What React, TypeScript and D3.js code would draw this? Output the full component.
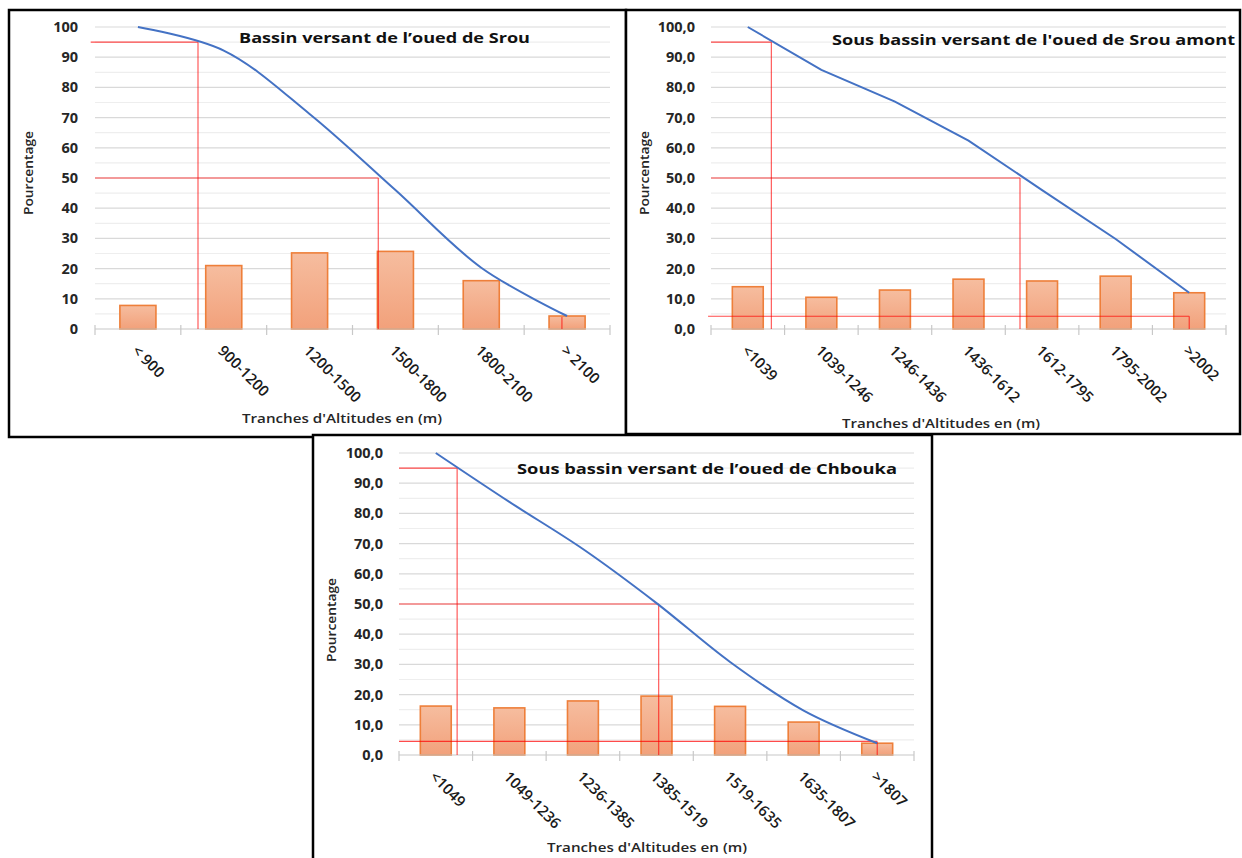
import React from "react";
import * as d3 from "d3";

// ---------- DATA ----------
const yTicks = [0, 10, 20, 30, 40, 50, 60, 70, 80, 90, 100];

const srouTitle = "Bassin versant de l\u2019oued de Srou";
const srouCategories = ["< 900", "900-1200", "1200-1500", "1500-1800", "1800-2100", "> 2100"];
const srouBars = [7.8, 21.0, 25.2, 25.7, 16.0, 4.3];
const srouCurve = [100, 92.2, 71.2, 46.0, 20.3, 4.3];
// guide lines: level (%) and position along the axis in category units
const srouGuides = [
  { level: 95, at: 1.2, from: -0.05, horizontal: true },
  { level: 50, at: 3.3, from: 0, horizontal: true },
  { level: 4, at: 5.44, from: 0, horizontal: false },
];

const amontTitle = "Sous bassin versant de l'oued de Srou amont";
const amontCategories = ["<1039", "1039-1246", "1246-1436", "1436-1612", "1612-1795", "1795-2002", ">2002"];
const amontBars = [14.0, 10.5, 12.9, 16.5, 15.9, 17.5, 12.0];
const amontCurve = [100, 85.8, 75.3, 62.4, 46.0, 29.8, 12.0];
const amontGuides = [
  { level: 95, at: 0.82, from: 0, horizontal: true },
  { level: 50, at: 4.2, from: 0, horizontal: true },
  { level: 4.2, at: 6.5, from: -0.04, horizontal: true },
];

const chboukaTitle = "Sous bassin versant de l\u2019oued de Chbouka";
const chboukaCategories = ["<1049", "1049-1236", "1236-1385", "1385-1519", "1519-1635", "1635-1807", ">1807"];
const chboukaBars = [16.2, 15.6, 17.9, 19.5, 16.1, 10.9, 3.9];
const chboukaCurve = [100, 83.8, 68.2, 50.3, 30.8, 14.7, 3.9];
const chboukaGuides = [
  { level: 95, at: 0.79, from: 0, horizontal: true },
  { level: 50, at: 3.53, from: 0, horizontal: true },
  { level: 4.5, at: 6.5, from: 0, horizontal: true },
];

const xAxisTitle = "Tranches d'Altitudes en (m)";
const yAxisTitle = "Pourcentage";

// ---------- LAYOUT ----------
const FONT = "'Open Sans', 'Liberation Sans', Arial, sans-serif";

type Layout = {
  id: string;
  frame: { x: number; y: number; w: number; h: number };
  x0: number; x1: number; yTop: number; yBottom: number;
  yLabelRight: number;
  yTitle: { x: number; y: number; len: number };
  xTitle: { x: number; y: number; len: number };
  title: { x: number; y: number; len: number };
  decimals: boolean;
  smooth: boolean;
};

const panels: { layout: Layout; title: string; cats: string[]; bars: number[]; curve: number[]; guides: any[] }[] = [
  {
    layout: {
      id: "p1",
      frame: { x: 9, y: 10, w: 617, h: 427 },
      x0: 95, x1: 610, yTop: 27, yBottom: 329,
      yLabelRight: 78,
      yTitle: { x: 28, y: 173, len: 84 },
      xTitle: { x: 342, y: 419, len: 200 },
      title: { x: 239, y: 43, len: 291 },
      decimals: false,
      smooth: true,
    },
    title: srouTitle, cats: srouCategories, bars: srouBars, curve: srouCurve, guides: srouGuides,
  },
  {
    layout: {
      id: "p2",
      frame: { x: 626, y: 10, w: 614, h: 424 },
      x0: 711, x1: 1226, yTop: 27, yBottom: 329,
      yLabelRight: 695,
      yTitle: { x: 644, y: 173, len: 84 },
      xTitle: { x: 941, y: 424, len: 198 },
      title: { x: 832, y: 45, len: 403 },
      decimals: true,
      smooth: false,
    },
    title: amontTitle, cats: amontCategories, bars: amontBars, curve: amontCurve, guides: amontGuides,
  },
  {
    layout: {
      id: "p3",
      frame: { x: 313, y: 435, w: 619, h: 440 },
      x0: 399, x1: 914, yTop: 453, yBottom: 755,
      yLabelRight: 383,
      yTitle: { x: 331, y: 620, len: 84 },
      xTitle: { x: 647, y: 848, len: 200 },
      title: { x: 517, y: 474, len: 380 },
      decimals: true,
      smooth: true,
    },
    title: chboukaTitle, cats: chboukaCategories, bars: chboukaBars, curve: chboukaCurve, guides: chboukaGuides,
  },
];

function Panel({ p }: { p: (typeof panels)[number] }) {
  const L = p.layout;
  const x = d3.scaleBand<string>().domain(p.cats).range([L.x0, L.x1]).padding(0);
  const bw = x.bandwidth();
  const u = d3.scaleLinear().domain([0, p.cats.length]).range([L.x0, L.x1]);
  const y = d3.scaleLinear().domain([0, 100]).range([L.yBottom, L.yTop]);
  const minor = d3.range(5, 100, 10);
  const fmt = L.decimals ? (v: number) => d3.format(".1f")(v).replace(".", ",") : (v: number) => String(v);
  const line = d3
    .line<number>()
    .x((_, i) => (x(p.cats[i]) as number) + bw / 2)
    .y((d) => y(d))
    .curve(L.smooth ? d3.curveCatmullRom.alpha(0.5) : d3.curveLinear);
  const barW = bw * 0.42;
  const gid = "grad-" + L.id;
  const boundaries = d3.range(p.cats.length + 1).map((i) => u(i));

  return (
    <g>
      <defs>
        <linearGradient id={gid} x1="0" y1="0" x2="0" y2="1">
          <stop offset="0%" stopColor="#F6BD9F" />
          <stop offset="100%" stopColor="#F2A17B" />
        </linearGradient>
      </defs>
      <rect x={L.frame.x} y={L.frame.y} width={L.frame.w} height={L.frame.h} fill="#fff" stroke="#000" strokeWidth={2.5} />
      {/* grid */}
      {minor.map((v) => (
        <line key={"m" + v} x1={L.x0} x2={L.x1} y1={y(v)} y2={y(v)} stroke="#eeeeee" strokeWidth={1.2} />
      ))}
      {yTicks.filter((v) => v > 0).map((v) => (
        <line key={"g" + v} x1={L.x0} x2={L.x1} y1={y(v)} y2={y(v)} stroke="#d9d9d9" strokeWidth={1.2} />
      ))}
      {/* y labels */}
      {yTicks.map((v) => (
        <text key={"yl" + v} x={L.yLabelRight} y={y(v)} dy="0.35em" textAnchor="end" fontFamily={FONT} fontWeight={700} fontSize={14.5} fill="#262626">
          {fmt(v)}
        </text>
      ))}
      {/* title */}
      <text x={L.title.x} y={L.title.y} fontFamily={FONT} fontWeight={700} fontSize={15} fill="#111" textLength={L.title.len} lengthAdjust="spacingAndGlyphs">
        {p.title}
      </text>
      {/* bars */}
      {p.bars.map((v, i) => {
        const cx = (x(p.cats[i]) as number) + bw / 2;
        return (
          <rect key={"b" + i} x={cx - barW / 2} y={y(v)} width={barW} height={y(0) - y(v)} fill={`url(#${gid})`} stroke="#EE7F3A" strokeWidth={1.6} />
        );
      })}
      {/* x axis */}
      <line x1={L.x0} x2={L.x1} y1={y(0)} y2={y(0)} stroke="#c8c8c8" strokeWidth={1.2} />
      {boundaries.map((bx, i) => (
        <line key={"t" + i} x1={bx} x2={bx} y1={y(0) - 4} y2={y(0) + 6} stroke="#c8c8c8" strokeWidth={1.2} />
      ))}
      {/* red guides */}
      {p.guides.map((g, i) => (
        <g key={"r" + i} stroke="#ff0000" strokeWidth={1.1} opacity={0.7}>
          {g.horizontal && <line x1={u(g.from)} x2={u(g.at)} y1={y(g.level)} y2={y(g.level)} />}
          <line x1={u(g.at)} x2={u(g.at)} y1={y(g.level)} y2={y(0)} />
        </g>
      ))}
      {/* curve */}
      <path d={line(p.curve) || ""} fill="none" stroke="#4472C4" strokeWidth={2} />
      {/* x labels */}
      {p.cats.map((c) => {
        const cx = (x(c) as number) + bw / 2;
        return (
          <text key={"xl" + c} transform={`translate(${cx - 3},${y(0) + 19}) rotate(45)`} dy="0.35em" fontFamily={FONT} fontWeight={600} fontSize={15} fill="#1a1a1a">
            {c}
          </text>
        );
      })}
      {/* axis titles */}
      <text x={L.xTitle.x} y={L.xTitle.y} dy="0.35em" textAnchor="middle" fontFamily={FONT} fontWeight={600} fontSize={12.5} fill="#262626" textLength={L.xTitle.len} lengthAdjust="spacingAndGlyphs">
        {xAxisTitle}
      </text>
      <text transform={`translate(${L.yTitle.x},${L.yTitle.y}) rotate(-90)`} dy="0.35em" textAnchor="middle" fontFamily={FONT} fontWeight={600} fontSize={13} fill="#262626" textLength={L.yTitle.len} lengthAdjust="spacingAndGlyphs">
        {yAxisTitle}
      </text>
    </g>
  );
}

export default function App() {
  return (
    <svg width={1242} height={858} style={{ position: "absolute", left: 0, top: 0, background: "#fff" }}>
      <rect x={0} y={0} width={1242} height={858} fill="#fff" />
      {panels.map((p) => (
        <Panel key={p.layout.id} p={p} />
      ))}
    </svg>
  );
}
